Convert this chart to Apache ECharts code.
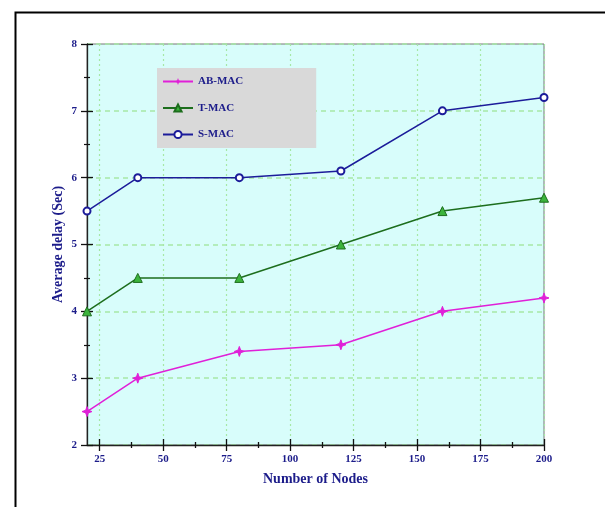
<!DOCTYPE html>
<html>
<head>
<meta charset="utf-8">
<script src="https://cdn.jsdelivr.net/npm/echarts@6/dist/echarts.min.js"></script>
<style>
html,body{margin:0;padding:0;background:#fff;}
#chart{width:605px;height:507px;}
</style>
</head>
<body>
<div id="chart"></div>
<script>
var nodes = [20, 40, 80, 120, 160, 200];
var abMac = [2.5, 3.0, 3.4, 3.5, 4.0, 4.2];
var tMac = [4.0, 4.5, 4.5, 5.0, 5.5, 5.7];
var sMac = [5.5, 6.0, 6.0, 6.1, 7.0, 7.2];
var xMajorTicks = [25, 50, 75, 100, 125, 150, 175, 200];
var xMinorTicks = [37.5, 62.5, 87.5, 112.5, 137.5, 162.5, 187.5];
var seriesNames = ['AB-MAC', 'T-MAC', 'S-MAC'];

function pairs(xs, ys) { return xs.map(function (x, i) { return [x, ys[i]]; }); }

var navy = '#1c1c8a';
var fontFam = '"Liberation Serif", "Times New Roman", serif';
var starPath = 'path://M0,-10 L2.6,-2.6 L10,0 L2.6,2.6 L0,10 L-2.6,2.6 L-10,0 L-2.6,-2.6 Z';

function xAx(ticks, inside, len, withLabel, split) {
  return {
    type: 'value', min: 20, max: 200, gridIndex: 0, position: 'bottom',
    axisLine: { show: withLabel, onZero: false, lineStyle: { color: '#222', width: 1.3 } },
    axisTick: { show: true, customValues: ticks, inside: inside, length: len, lineStyle: { color: '#111', width: 1.3 } },
    axisLabel: withLabel ? { show: true, customValues: ticks, margin: 9, color: navy, fontFamily: fontFam, fontWeight: 'bold', fontSize: 11 } : { show: false },
    splitLine: split ? { show: true, lineStyle: { color: '#a6e8a6', type: [2, 3], width: 1.2 } } : { show: false },
    name: withLabel ? 'Number of Nodes' : '',
    nameLocation: 'middle', nameGap: 27, nameMoveOverlap: false,
    nameTextStyle: { color: navy, fontFamily: fontFam, fontWeight: 'bold', fontSize: 14 }
  };
}

var chart = echarts.init(document.getElementById('chart'), null, { renderer: 'canvas' });
chart.setOption({
  animation: false,
  backgroundColor: '#ffffff',
  graphic: [{
    type: 'rect', left: 13, top: 10, z: -10,
    shape: { width: 700, height: 600 },
    style: { fill: 'none', stroke: '#000', lineWidth: 2 }
  }],
  grid: {
    left: 87, right: 61, top: 44, bottom: 62,
    show: true, backgroundColor: '#d8fdfb', borderColor: '#777', borderWidth: 1
  },
  legend: {
    data: seriesNames,
    orient: 'vertical',
    left: 157, top: 68,
    backgroundColor: '#d9d9d9',
    padding: [8, 73, 8, 5],
    itemWidth: 30, itemHeight: 9, itemGap: 15.5,
    textStyle: { color: navy, fontFamily: fontFam, fontWeight: 'bold', fontSize: 11 }
  },
  xAxis: [
    xAx(xMajorTicks, false, 6, true, true),
    xAx(xMajorTicks, true, 6, false, false),
    xAx(xMinorTicks, false, 3, false, false),
    xAx(xMinorTicks, true, 3, false, false)
  ],
  yAxis: [{
    type: 'value', min: 2, max: 8, interval: 1,
    axisLine: { show: true, onZero: false, lineStyle: { color: '#222', width: 1.3 } },
    axisTick: { show: true, inside: false, length: 6, lineStyle: { color: '#111', width: 1.3 } },
    minorTick: { show: true, splitNumber: 2, length: 3, lineStyle: { color: '#111', width: 1.2 } },
    axisLabel: { margin: 10, color: navy, fontFamily: fontFam, fontWeight: 'bold', fontSize: 11 },
    splitLine: { show: true, lineStyle: { color: '#a6e8a6', type: [5, 4], width: 1.6 } },
    name: 'Average delay (Sec)', nameLocation: 'middle', nameGap: 22, nameMoveOverlap: false,
    nameTextStyle: { color: navy, fontFamily: fontFam, fontWeight: 'bold', fontSize: 14 }
  }, {
    type: 'value', min: 2, max: 8, interval: 1, position: 'left',
    axisLine: { show: false },
    axisTick: { show: true, inside: true, length: 6, lineStyle: { color: '#111', width: 1.3 } },
    minorTick: { show: true, splitNumber: 2, length: 3, lineStyle: { color: '#111', width: 1.2 } },
    axisLabel: { show: false },
    splitLine: { show: false }
  }],
  series: [{
    name: seriesNames[0], type: 'line', data: pairs(nodes, abMac),
    symbol: starPath, symbolSize: 10,
    lineStyle: { color: '#e020d8', width: 1.5 },
    itemStyle: { color: '#e020d8', borderColor: '#e020d8' }
  }, {
    name: seriesNames[1], type: 'line', data: pairs(nodes, tMac),
    symbol: 'triangle', symbolSize: 9,
    lineStyle: { color: '#1d6e1d', width: 1.5 },
    itemStyle: { color: '#3cb43c', borderColor: '#1d6e1d', borderWidth: 1 }
  }, {
    name: seriesNames[2], type: 'line', data: pairs(nodes, sMac),
    symbol: 'emptyCircle', symbolSize: 7,
    lineStyle: { color: '#1c1c9a', width: 1.5 },
    itemStyle: { color: '#1c1c9a', borderColor: '#1c1c9a', borderWidth: 1.5 }
  }]
});
</script>
</body>
</html>
